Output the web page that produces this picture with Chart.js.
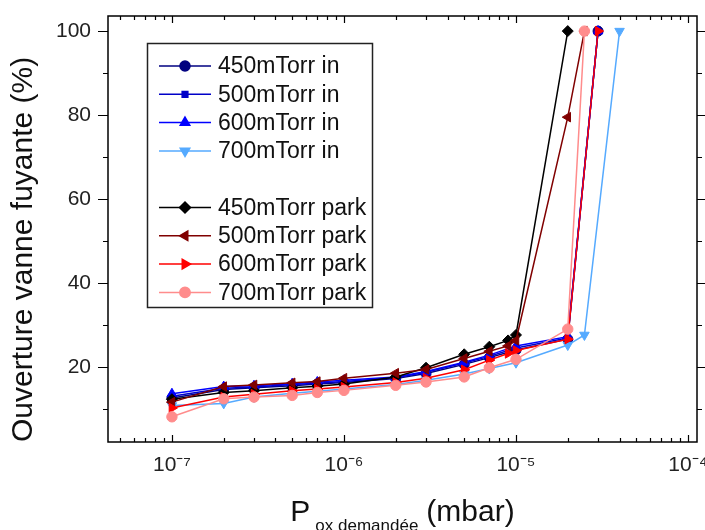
<!DOCTYPE html>
<html>
<head>
<meta charset="utf-8">
<script src="https://cdn.jsdelivr.net/npm/chart.js@4.4.0/dist/chart.umd.min.js"></script>
<style>
  html, body { margin: 0; padding: 0; background: #fff; }
  canvas { display: block; }
</style>
</head>
<body>
<canvas id="chart" width="705" height="530"></canvas>
<script>
// Série "in" (sous vide) et "park"
const LABELS = ['450mTorr in', '500mTorr in', '600mTorr in', '700mTorr in',
                '450mTorr park', '500mTorr park', '600mTorr park', '700mTorr park'];

const X_450_IN = [1e-7, 2e-7, 3e-7, 5e-7, 7e-7, 1e-6, 2e-6, 3e-6, 5e-6, 7e-6, 1e-5, 2e-5, 3e-5];
const Y_450_IN = [12.6, 14.6, 15.0, 15.5, 15.9, 16.3, 17.2, 18.4, 20.6, 22.2, 24.0, 26.6, 100];

const X_500_IN = [1e-7, 2e-7, 3e-7, 5e-7, 7e-7, 1e-6, 2e-6, 3e-6, 5e-6, 7e-6, 1e-5, 2e-5, 3e-5];
const Y_500_IN = [13.0, 14.9, 15.2, 15.8, 16.1, 16.5, 17.4, 18.7, 20.9, 22.5, 24.5, 26.9, 100];

const X_600_IN = [1e-7, 2e-7, 3e-7, 5e-7, 7e-7, 1e-6, 2e-6, 3e-6, 5e-6, 7e-6, 1e-5, 2e-5, 3e-5];
const Y_600_IN = [13.6, 15.3, 15.5, 16.0, 16.4, 16.8, 17.6, 18.9, 21.1, 22.8, 25.0, 27.2, 100];

const X_700_IN = [1e-7, 2e-7, 3e-7, 5e-7, 7e-7, 1e-6, 2e-6, 3e-6, 5e-6, 7e-6, 1e-5, 2e-5, 2.5e-5, 4e-5];
const Y_700_IN = [10.8, 11.3, 12.8, 13.7, 14.2, 14.7, 15.8, 16.8, 18.3, 19.6, 21.0, 25.2, 27.6, 100];

const X_450_PARK = [1e-7, 2e-7, 3e-7, 5e-7, 7e-7, 1e-6, 2e-6, 3e-6, 5e-6, 7e-6, 9e-6, 1e-5, 2e-5];
const Y_450_PARK = [12.3, 13.9, 14.3, 15.0, 15.4, 15.9, 17.6, 19.8, 23.0, 24.8, 26.3, 27.6, 100];

const X_500_PARK = [1e-7, 2e-7, 3e-7, 5e-7, 7e-7, 1e-6, 2e-6, 3e-6, 5e-6, 7e-6, 9e-6, 1e-5, 2e-5, 2.5e-5];
const Y_500_PARK = [11.6, 15.3, 15.7, 16.2, 16.5, 17.3, 18.5, 19.4, 22.0, 23.7, 25.0, 26.3, 79.5, 100];

const X_600_PARK = [1e-7, 2e-7, 3e-7, 5e-7, 7e-7, 1e-6, 2e-6, 3e-6, 5e-6, 7e-6, 9e-6, 1e-5, 2e-5, 3e-5];
const Y_600_PARK = [10.2, 12.8, 13.5, 14.3, 14.7, 15.2, 16.3, 17.3, 19.3, 21.6, 23.2, 23.9, 26.6, 100];

const X_700_PARK = [1e-7, 2e-7, 3e-7, 5e-7, 7e-7, 1e-6, 2e-6, 3e-6, 5e-6, 7e-6, 1e-5, 2e-5, 2.5e-5];
const Y_700_PARK = [8.1, 12.4, 12.8, 13.2, 13.9, 14.4, 15.6, 16.4, 17.6, 19.8, 21.8, 29.0, 100];

// ticks
const X_DECADES = [1e-8, 1e-7, 1e-6, 1e-5, 1e-4];
const Y_TICKS = [10, 20, 30, 40, 50, 60, 70, 80, 90, 100];
const Y_LABELED = [20, 40, 60, 80, 100];

const X_MIN = 4.25e-8, X_MAX = 1.128e-4;
const Y_MIN = 2.1, Y_MAX = 103.6;

const FONT = '"Liberation Sans", Arial, sans-serif';

function toPoints(xs, ys) {
    return xs.map((x, i) => ({ x: x, y: ys[i] }));
}

function isDecade(v) {
    const l = Math.log10(v);
    return Math.abs(l - Math.round(l)) < 1e-6;
}

function sup(n) {
    const map = { '-': '\u207B', '0': '\u2070', '1': '\u00B9', '2': '\u00B2', '3': '\u00B3',
                  '4': '\u2074', '5': '\u2075', '6': '\u2076', '7': '\u2077', '8': '\u2078', '9': '\u2079' };
    return String(n).split('').map(c => map[c]).join('');
}

// ticks mineurs 2..9 x 10^n
const X_TICKS = [];
X_DECADES.forEach(d => {
    for (let k = 1; k <= 9; k++) {
        const v = k * d;
        if (v >= X_MIN && v <= X_MAX) X_TICKS.push(v);
    }
});

const styles = [
    { color: '#000080', pointStyle: 'circle', rotation: 0, radius: 5 },
    { color: '#0000c8', pointStyle: 'rect', rotation: 0, radius: 4 },
    { color: '#0000ff', pointStyle: 'triangle', rotation: 0, radius: 5.5 },
    { color: '#55aaff', pointStyle: 'triangle', rotation: 180, radius: 5.5 },
    { color: '#000000', pointStyle: 'rectRot', rotation: 0, radius: 5.5 },
    { color: '#800000', pointStyle: 'triangle', rotation: -90, radius: 5.5 },
    { color: '#ff0000', pointStyle: 'triangle', rotation: 90, radius: 5.5 },
    { color: '#ff8c8c', pointStyle: 'circle', rotation: 0, radius: 5.2 }
];

const seriesData = [
    toPoints(X_450_IN, Y_450_IN),
    toPoints(X_500_IN, Y_500_IN),
    toPoints(X_600_IN, Y_600_IN),
    toPoints(X_700_IN, Y_700_IN),
    toPoints(X_450_PARK, Y_450_PARK),
    toPoints(X_500_PARK, Y_500_PARK),
    toPoints(X_600_PARK, Y_600_PARK),
    toPoints(X_700_PARK, Y_700_PARK)
];

const datasets = seriesData.map((pts, i) => ({
    label: LABELS[i],
    data: pts,
    showLine: true,
    borderColor: styles[i].color,
    backgroundColor: styles[i].color,
    borderWidth: 1.5,
    pointStyle: styles[i].pointStyle,
    pointRotation: styles[i].rotation,
    pointRadius: styles[i].radius,
    pointBorderWidth: 1,
    order: LABELS.length - i
}));

// cadre + ticks façon Origin
const frameTicks = {
    id: 'frameTicks',
    beforeDatasetsDraw(chart) {
        const { ctx, chartArea: a, scales } = chart;
        const x = scales.x, y = scales.y;
        ctx.save();
        ctx.strokeStyle = '#000';
        ctx.lineWidth = 1.2;
        ctx.beginPath();
        x.ticks.forEach(t => {
            const px = Math.round(x.getPixelForValue(t.value)) + 0.5;
            const len = isDecade(t.value) ? 7 : 4;
            ctx.moveTo(px, a.bottom); ctx.lineTo(px, a.bottom - len);
            ctx.moveTo(px, a.top); ctx.lineTo(px, a.top + len);
        });
        y.ticks.forEach(t => {
            const py = Math.round(y.getPixelForValue(t.value)) + 0.5;
            const len = t.value % 20 === 0 ? 10 : 5;
            ctx.moveTo(a.left - len, py); ctx.lineTo(a.left, py);
            ctx.moveTo(a.right, py); ctx.lineTo(a.right + len, py);
        });
        ctx.stroke();
        ctx.lineWidth = 1.5;
        ctx.strokeRect(a.left, a.top, a.right - a.left, a.bottom - a.top);
        ctx.restore();
    }
};

// légende encadrée + titre de l'axe x avec indice
const legendAndTitle = {
    id: 'legendAndTitle',
    afterDraw(chart) {
        const ctx = chart.ctx;
        const a = chart.chartArea;
        ctx.save();

        ctx.fillStyle = '#fff';
        ctx.fillRect(147, 43, 226, 264);
        ctx.strokeStyle = '#222';
        ctx.lineWidth = 1.5;
        ctx.strokeRect(147.5, 43.5, 225, 264);

        chart.data.datasets.forEach((ds, i) => {
            const yy = 66 + (i + (i >= 4 ? 1 : 0)) * 28.3;
            ctx.strokeStyle = ds.borderColor;
            ctx.fillStyle = ds.backgroundColor;
            ctx.lineWidth = 1.5;
            ctx.beginPath();
            ctx.moveTo(159, yy);
            ctx.lineTo(211, yy);
            ctx.stroke();
            Chart.helpers.drawPoint(ctx, {
                pointStyle: ds.pointStyle,
                rotation: ds.pointRotation,
                radius: ds.pointRadius,
                borderWidth: 1
            }, 185, yy);
            ctx.fillStyle = '#111';
            ctx.font = '23px ' + FONT;
            ctx.textBaseline = 'middle';
            ctx.textAlign = 'left';
            ctx.fillText(ds.label, 218, yy + 1);
        });

        // P_ox demandée (mbar)
        const big = '30px ' + FONT, small = '17px ' + FONT;
        ctx.fillStyle = '#111';
        ctx.textBaseline = 'alphabetic';
        ctx.font = big;
        const wP = ctx.measureText('P').width;
        const wU = ctx.measureText('(mbar)').width;
        ctx.font = small;
        const wS = ctx.measureText('ox demandée').width;
        const gap1 = 5, gap2 = 8;
        const total = wP + gap1 + wS + gap2 + wU;
        let xx = (a.left + a.right) / 2 - total / 2;
        const base = 521;
        ctx.font = big;
        ctx.fillText('P', xx, base);
        xx += wP + gap1;
        ctx.font = small;
        ctx.fillText('ox demandée', xx, base + 10);
        xx += wS + gap2;
        ctx.font = big;
        ctx.fillText('(mbar)', xx, base);
        ctx.restore();
    }
};

new Chart(document.getElementById('chart'), {
    type: 'scatter',
    data: { datasets: datasets },
    options: {
        responsive: false,
        animation: false,
        layout: { padding: { top: 16, right: 8, left: 0, bottom: 0 } },
        plugins: {
            legend: { display: false },
            tooltip: { enabled: false }
        },
        scales: {
            x: {
                type: 'logarithmic',
                min: X_MIN,
                max: X_MAX,
                afterBuildTicks: s => { s.ticks = X_TICKS.map(v => ({ value: v })); },
                afterFit: s => { s.height = 88; s.paddingLeft = 0; s.paddingRight = 0; },
                grid: { display: false, drawTicks: false },
                border: { display: false },
                ticks: {
                    autoSkip: false,
                    maxRotation: 0,
                    minRotation: 0,
                    padding: 11,
                    color: '#222',
                    font: { family: FONT, size: 21 },
                    callback: v => isDecade(v) ? '10' + sup(Math.round(Math.log10(v))) : ''
                }
            },
            y: {
                min: Y_MIN,
                max: Y_MAX,
                afterBuildTicks: s => { s.ticks = Y_TICKS.map(v => ({ value: v })); },
                afterFit: s => { s.width = 108; s.paddingTop = 0; s.paddingBottom = 0; },
                grid: { display: false, drawTicks: false },
                border: { display: false },
                ticks: {
                    padding: 17,
                    color: '#222',
                    font: { family: FONT, size: 21 },
                    callback: v => Y_LABELED.includes(v) ? String(v) : ''
                },
                title: {
                    display: true,
                    text: 'Ouverture vanne fuyante (%)',
                    align: 'start',
                    color: '#111',
                    font: { family: FONT, size: 30 },
                    padding: { top: 6, bottom: 0 }
                }
            }
        }
    },
    plugins: [frameTicks, legendAndTitle]
});
</script>
</body>
</html>
